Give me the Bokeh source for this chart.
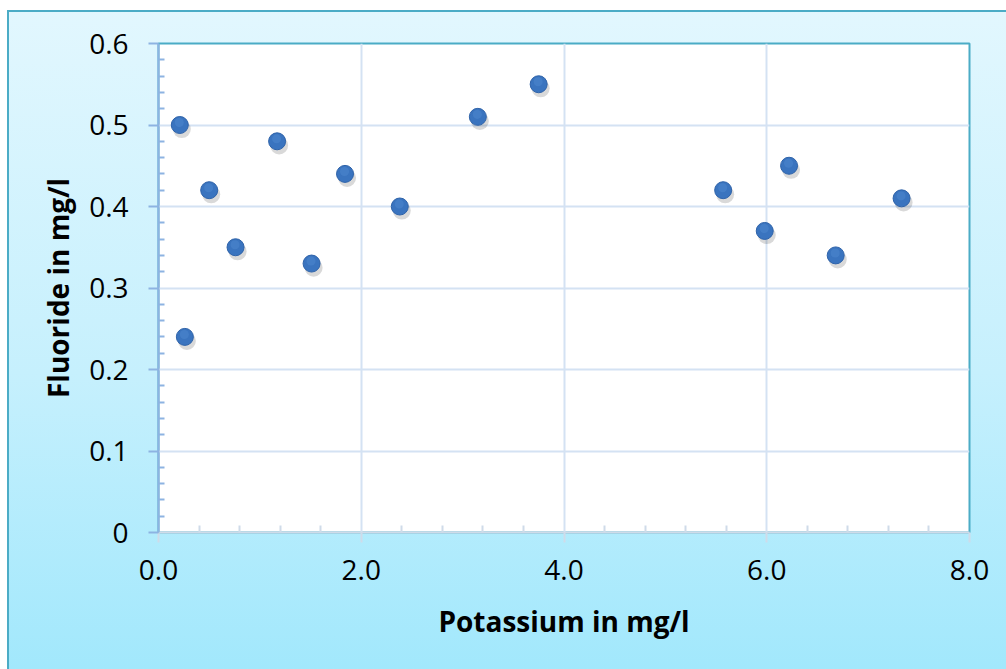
from bokeh.plotting import figure
from bokeh.models import FixedTicker, PrintfTickFormatter, Range1d, ColumnDataSource
from bokeh.transform import dodge
from bokeh.embed import file_html
from bokeh.resources import INLINE

# Potassium vs fluoride concentrations (mg/l)
potassium = [0.21, 0.26, 0.50, 0.76, 1.17, 1.51, 1.84, 2.38, 3.15, 3.75, 5.57, 5.98, 6.22, 6.68, 7.33]
fluoride = [0.50, 0.24, 0.42, 0.35, 0.48, 0.33, 0.44, 0.40, 0.51, 0.55, 0.42, 0.37, 0.45, 0.34, 0.41]

x_ticks = [0, 2, 4, 6, 8]
y_ticks = [0, 0.1, 0.2, 0.3, 0.4, 0.5, 0.6]
x_minor = [0.4, 0.8, 1.2, 1.6, 2.4, 2.8, 3.2, 3.6, 4.4, 4.8, 5.2, 5.6, 6.4, 6.8, 7.2, 7.6]
y_minor = [0.02, 0.04, 0.06, 0.08, 0.12, 0.14, 0.16, 0.18, 0.22, 0.24, 0.26, 0.28,
           0.32, 0.34, 0.36, 0.38, 0.42, 0.44, 0.46, 0.48, 0.52, 0.54, 0.56, 0.58]

FONT = "Open Sans"

p = figure(width=999, height=659, output_backend="svg", toolbar_location=None,
           x_range=Range1d(0, 8), y_range=Range1d(0, 0.6),
           min_border_left=151, min_border_top=33, min_border_right=37, min_border_bottom=137,
           margin=(10, 0, 0, 7))

# chart area: light cyan gradient with a teal frame
p.border_fill_color = None
p.styles = {
    "background-image": "linear-gradient(to bottom, #e2f7fe 0%, #c6f0fd 55%, #a2e8fc 100%)",
    "box-shadow": "inset 2px 2px 0 #4bacc6",
}
p.background_fill_color = "white"
p.outline_line_color = "#4bacc6"
p.outline_line_width = 2

# grid
p.xgrid.ticker = FixedTicker(ticks=x_ticks)
p.ygrid.ticker = FixedTicker(ticks=y_ticks)
for g in (p.xgrid, p.ygrid):
    g.grid_line_color = "#d4e2f3"
    g.grid_line_width = 2

# x axis
xa = p.xaxis[0]
xa.ticker = FixedTicker(ticks=x_ticks, minor_ticks=x_minor)
xa.formatter = PrintfTickFormatter(format="%.1f")
xa.axis_line_color = "#cfdbe9"
xa.axis_line_width = 2
xa.major_tick_line_color = "#cfdbe9"
xa.major_tick_line_width = 2
xa.minor_tick_line_color = "#cfdbe9"
xa.minor_tick_line_width = 2
xa.major_tick_out = 10
xa.major_tick_in = 0
xa.minor_tick_in = 7
xa.minor_tick_out = 0
xa.major_label_standoff = 17
xa.axis_label = "Potassium in mg/l"
xa.axis_label_standoff = 19

# y axis
ya = p.yaxis[0]
ya.ticker = FixedTicker(ticks=y_ticks, minor_ticks=y_minor)
ya.formatter = PrintfTickFormatter(format="%.1f")
ya.major_label_overrides = {0: "0"}
ya.axis_line_color = "#8db3e2"
ya.axis_line_width = 2
ya.major_tick_line_color = "#8db3e2"
ya.major_tick_line_width = 2
ya.minor_tick_line_color = "#8db3e2"
ya.minor_tick_line_width = 2
ya.major_tick_out = 10
ya.major_tick_in = 0
ya.minor_tick_in = 6
ya.minor_tick_out = 0
ya.major_label_standoff = 20
ya.axis_label = "Fluoride in mg/l"
ya.axis_label_standoff = 9

for ax in (xa, ya):
    ax.major_label_text_font = FONT
    ax.major_label_text_font_size = "28px"
    ax.major_label_text_color = "black"
    ax.axis_label_text_font = FONT
    ax.axis_label_text_font_size = "28px"
    ax.axis_label_text_font_style = "bold"
    ax.axis_label_text_color = "black"

src = ColumnDataSource(dict(potassium=potassium, fluoride=fluoride))

# soft drop shadow, then the markers
p.scatter(x=dodge("potassium", 0.02), y=dodge("fluoride", -0.005), source=src,
          size=18, fill_color="#000000", fill_alpha=0.15, line_color=None)
p.scatter(x="potassium", y="fluoride", source=src, size=17,
          fill_color="#3a74bf", line_color="#2f63a9", line_width=1)
p.scatter(x=dodge("potassium", -0.005), y=dodge("fluoride", 0.003), source=src, size=9,
          fill_color="#5a91d8", fill_alpha=0.35, line_color=None)

open("out.html", "w").write(file_html(p, INLINE))
